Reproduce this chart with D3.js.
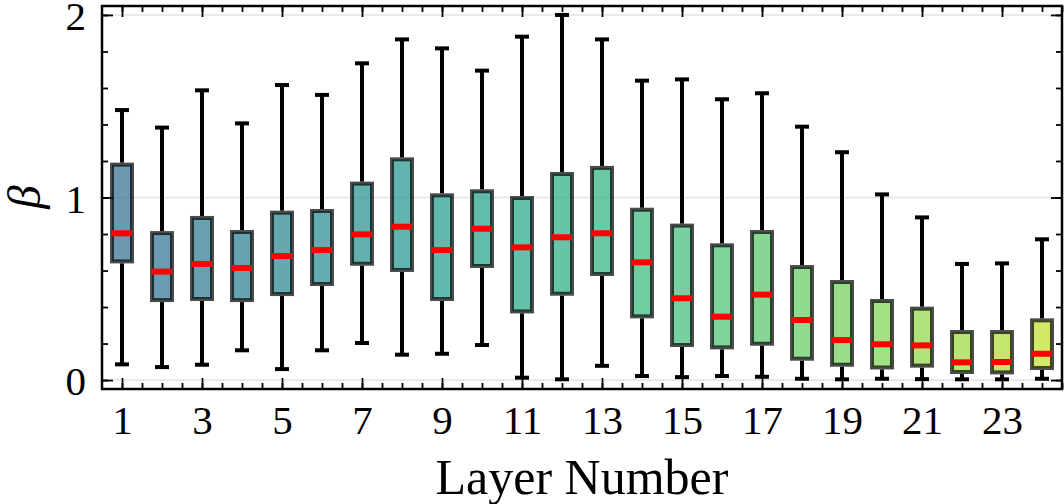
<!DOCTYPE html>
<html>
<head>
<meta charset="utf-8">
<script src="https://cdn.jsdelivr.net/npm/d3@7"></script>
<style>
  html, body { margin: 0; padding: 0; background: #fff; }
  svg { display: block; font-family: "Liberation Serif", "DejaVu Serif", serif; }
</style>
</head>
<body>
<svg id="chart" width="1064" height="504"></svg>
<script>
// layer numbers and box statistics
var layers   = d3.range(1, 25);
var whiskLo  = [0.086, 0.071, 0.084, 0.163, 0.060, 0.163, 0.203, 0.139, 0.144, 0.192, 0.013, 0.004,
                0.078, 0.022, 0.016, 0.022, 0.018, 0.007, 0.004, 0.007, 0.005, 0.004, 0.004, 0.007];
var q1       = [0.639, 0.427, 0.433, 0.427, 0.460, 0.515, 0.626, 0.592, 0.433, 0.614, 0.365, 0.462,
                0.570, 0.338, 0.181, 0.168, 0.188, 0.106, 0.073, 0.058, 0.068, 0.033, 0.031, 0.055];
var medians  = [0.804, 0.594, 0.636, 0.614, 0.679, 0.712, 0.798, 0.840, 0.712, 0.829, 0.727, 0.782,
                0.804, 0.645, 0.448, 0.347, 0.468, 0.329, 0.219, 0.196, 0.190, 0.097, 0.099, 0.144];
var q3       = [1.191, 0.816, 0.899, 0.822, 0.928, 0.937, 1.087, 1.220, 1.023, 1.045, 1.008, 1.140,
                1.173, 0.944, 0.857, 0.749, 0.822, 0.630, 0.548, 0.444, 0.402, 0.274, 0.274, 0.338];
var whiskHi  = [1.479, 1.383, 1.587, 1.406, 1.616, 1.562, 1.735, 1.866, 1.817, 1.695, 1.881, 2.000,
                1.866, 1.640, 1.647, 1.538, 1.571, 1.388, 1.248, 1.017, 0.891, 0.636, 0.639, 0.771];
var xTickLabels = [1, 3, 5, 7, 9, 11, 13, 15, 17, 19, 21, 23];
var yTickLabels = [0, 1, 2];

(function() {
    var svg = d3.select("#chart");
    var mL = 102, mR = 1062, mT = 6, mB = 389;

    var x = d3.scaleLinear().domain([0.5, 24.5]).range([mL, mR]);
    var y = d3.scaleLinear().domain([-0.049, 2.049]).range([mB, mT]);
    var color = function(i) { return d3.interpolateViridis(0.35 + 0.55 * i / 23); };

    // grid lines at major y ticks
    svg.append("g").selectAll("line").data(yTickLabels).join("line")
        .attr("x1", mL).attr("x2", mR)
        .attr("y1", function(d) { return y(d); }).attr("y2", function(d) { return y(d); })
        .attr("stroke", "#e3e3e3").attr("stroke-width", 1.5);

    var boxW = 20, capW = 14, lw = 4, bw = 4;
    var g = svg.append("g");
    var data = layers.map(function(l, i) {
        return {l: l, i: i, lo: whiskLo[i], q1: q1[i], med: medians[i], q3: q3[i], hi: whiskHi[i]};
    });

    // whiskers
    g.selectAll(".wlo").data(data).join("line").attr("class", "wlo")
        .attr("x1", function(d) { return x(d.l); }).attr("x2", function(d) { return x(d.l); })
        .attr("y1", function(d) { return y(d.q1); }).attr("y2", function(d) { return y(d.lo); })
        .attr("stroke", "#000").attr("stroke-width", lw);
    g.selectAll(".whi").data(data).join("line").attr("class", "whi")
        .attr("x1", function(d) { return x(d.l); }).attr("x2", function(d) { return x(d.l); })
        .attr("y1", function(d) { return y(d.q3); }).attr("y2", function(d) { return y(d.hi); })
        .attr("stroke", "#000").attr("stroke-width", lw);
    // caps
    ["lo", "hi"].forEach(function(k) {
        g.selectAll(".cap" + k).data(data).join("line").attr("class", "cap" + k)
            .attr("x1", function(d) { return x(d.l) - capW / 2; })
            .attr("x2", function(d) { return x(d.l) + capW / 2; })
            .attr("y1", function(d) { return y(d[k]); }).attr("y2", function(d) { return y(d[k]); })
            .attr("stroke", "#000").attr("stroke-width", lw);
    });

    // boxes
    g.selectAll("rect").data(data).join("rect")
        .attr("x", function(d) { return x(d.l) - boxW / 2; })
        .attr("width", boxW)
        .attr("y", function(d) { return y(d.q3) + bw / 2; })
        .attr("height", function(d) { return y(d.q1) - y(d.q3) - bw; })
        .attr("fill", function(d) { return color(d.i); })
        .attr("fill-opacity", 0.7)
        .attr("stroke", "#000").attr("stroke-opacity", 0.7).attr("stroke-width", bw);

    // medians
    g.selectAll(".med").data(data).join("line").attr("class", "med")
        .attr("x1", function(d) { return x(d.l) - boxW / 2; })
        .attr("x2", function(d) { return x(d.l) + boxW / 2; })
        .attr("y1", function(d) { return y(d.med); }).attr("y2", function(d) { return y(d.med); })
        .attr("stroke", "#ff0000").attr("stroke-width", 6);

    // axes: ticks inside on all four sides
    var xMinor = d3.range(1, 24.51, 0.5);
    var yMinor = d3.range(0, 2.01, 0.2);

    function addAxis(axisFn, scale, tr, minorVals, majorVals, labels) {
        svg.append("g").attr("transform", tr)
            .call(axisFn(scale).tickValues(minorVals).tickSize(-6).tickFormat(""))
            .call(function(s) { s.select(".domain").remove(); s.selectAll("line").attr("stroke-width", 1.8); });
        var gm = svg.append("g").attr("transform", tr)
            .call(axisFn(scale).tickValues(majorVals).tickSize(-11)
                .tickFormat(labels ? d3.format("d") : ""));
        gm.select(".domain").remove();
        gm.selectAll("line").attr("stroke-width", 1.8);
        gm.attr("font-family", null).attr("font-size", null);
        gm.selectAll("text").attr("fill", "#000").style("font-size", "41px")
            .style("font-family", "'Liberation Serif', serif");
        return gm;
    }
    var gb = addAxis(d3.axisBottom, x, "translate(0," + mB + ")", xMinor, xTickLabels, true);
    gb.selectAll("text").attr("y", 16).attr("dy", "0.71em");
    addAxis(d3.axisTop, x, "translate(0," + mT + ")", xMinor, xTickLabels, false);
    var gl = addAxis(d3.axisLeft, y, "translate(" + mL + ",0)", yMinor, yTickLabels, true);
    gl.selectAll("text").attr("x", -16).attr("dy", "0.36em");
    addAxis(d3.axisRight, y, "translate(" + mR + ",0)", yMinor, yTickLabels, false);

    // frame
    svg.append("rect").attr("x", mL).attr("y", mT)
        .attr("width", mR - mL).attr("height", mB - mT)
        .attr("fill", "none").attr("stroke", "#000").attr("stroke-width", 2.5);

    // axis labels
    svg.append("text").attr("x", (mL + mR) / 2).attr("y", 494)
        .attr("text-anchor", "middle").attr("font-size", 50).text("Layer Number");
    svg.append("text").attr("transform", "translate(40,197) rotate(-90)")
        .attr("text-anchor", "middle").attr("font-size", 47).attr("font-style", "italic").text("β");
})();
</script>
</body>
</html>
